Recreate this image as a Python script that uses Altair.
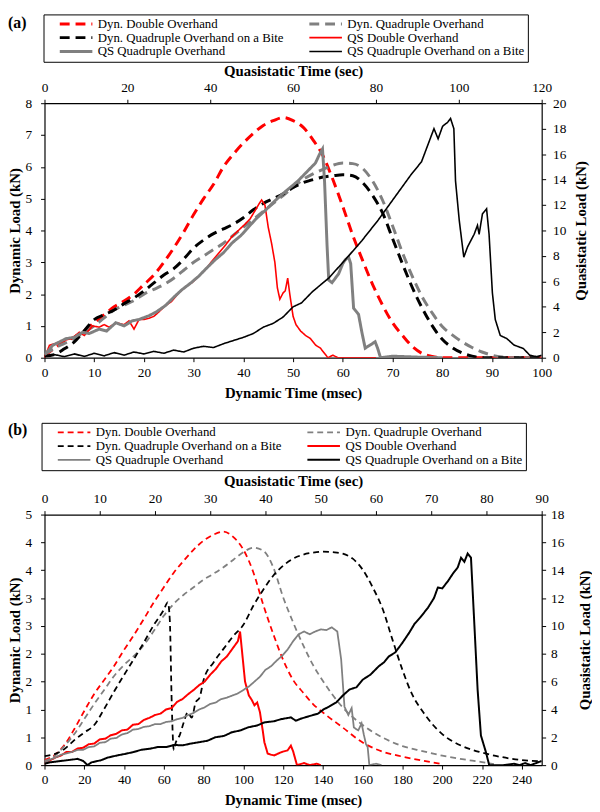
import altair as alt
import pandas as pd

FONT = "Liberation Serif, Times New Roman, Times, DejaVu Serif, serif"

SERIES = ["Dyn. Double Overhand", "Dyn. Quadruple Overhand",
          "Dyn. Quadruple Overhand on a Bite", "QS Double Overhand",
          "QS Quadruple Overhand", "QS Quadruple Overhand on a Bite"]
# legend fills column by column; this order reproduces the reference's row layout
LEGEND_ORDER = [SERIES[0], SERIES[2], SERIES[4], SERIES[1], SERIES[3], SERIES[5]]
COLORS = {SERIES[0]: "#ff0000", SERIES[1]: "#808080", SERIES[2]: "#000000",
          SERIES[3]: "#ff0000", SERIES[4]: "#808080", SERIES[5]: "#000000"}

# ---------------- Panel (a): dynamic (msec, kN) ----------------
A_DYN_DOUBLE = [(0,0.05),(2,0.3),(4,0.5),(6,0.65),(8,0.85),(10,1.1),(12,1.35),(14,1.6),(16,1.78),(18,2.0),
                (20,2.3),(22,2.6),(24,3.0),(26,3.45),(28,3.95),(30,4.5),(32,5.0),(34,5.45),(36,6.0),(38,6.4),
                (40,6.75),(42,7.05),(44,7.3),(46,7.45),(48,7.55),(50,7.45),(52,7.25),(54,6.85),(56,6.35),(58,5.6),
                (60,4.75),(62,3.85),(64,3.05),(66,2.3),(68,1.65),(70,1.1),(72,0.7),(74,0.35),(76,0.13),(78,0.04),
                (80,0.0),(100,0.0)]
A_DYN_QUAD = [(0,0.1),(2,0.3),(4,0.45),(6,0.6),(8,0.8),(10,1.0),(12,1.25),(14,1.5),(16,1.65),(18,1.8),
              (20,2.0),(22,2.15),(24,2.3),(26,2.5),(28,2.75),(30,3.0),(32,3.2),(34,3.4),(36,3.6),(38,3.85),
              (40,4.1),(42,4.35),(44,4.6),(46,4.85),(48,5.1),(50,5.35),(52,5.6),(54,5.78),(56,5.92),(58,6.05),
              (60,6.12),(62,6.1),(64,5.95),(66,5.55),(68,4.95),(70,4.15),(72,3.3),(74,2.55),(76,1.9),(78,1.4),
              (80,0.98),(82,0.72),(84,0.5),(86,0.32),(88,0.18),(90,0.08),(92,0.02),(94,0.0),(100,0.0)]
A_DYN_BITE = [(0,0.05),(2,0.1),(4,0.28),(6,0.5),(8,0.85),(10,1.2),(12,1.35),(14,1.5),(16,1.7),(18,1.88),
              (20,2.1),(22,2.35),(24,2.6),(26,2.8),(28,3.1),(30,3.45),(32,3.7),(34,3.9),(36,4.05),(38,4.2),
              (40,4.4),(42,4.65),(44,4.85),(46,5.0),(48,5.15),(50,5.35),(52,5.5),(54,5.6),(56,5.68),(58,5.72),
              (60,5.75),(62,5.72),(64,5.5),(66,5.1),(68,4.55),(70,3.75),(72,2.95),(74,2.2),(76,1.55),(78,1.0),
              (80,0.58),(82,0.32),(84,0.15),(86,0.05),(88,0.0),(100,0.0)]

# ---------------- Panel (a): quasistatic (sec, kN) ----------------
A_QS_DOUBLE = [(0,0),(1.2,0.98),(2.4,1.1),(5.2,1.4),(6.6,1.5),(8.4,2.0),(9.6,1.75),(11.6,2.5),(13.2,2.4),
               (14.4,2.6),(15.6,2.4),(17.4,2.75),(19.2,2.6),(20.4,2.9),(21.6,2.25),(22.8,3.0),(24,3.0),
               (25.2,3.1),(26.4,3.25),(27.6,3.6),(29.2,4.1),(30.6,4.4),(32.4,5.1),(34.2,5.6),(35.6,5.9),
               (37.2,6.4),(38.8,6.9),(40.2,7.5),(42,8.2),(43.8,8.9),(45.2,9.5),(46.8,10.0),(48.4,10.5),
               (49.6,10.9),(50.8,11.55),(51.8,12.1),(52.4,12.4),(53.2,12.0),(54,10.25),(54.8,9.0),(55.6,7.5),
               (56.2,5.5),(56.8,4.6),(57.6,5.1),(58.1,5.25),(58.7,6.25),(59.2,5.0),(60,3.25),(60.7,2.6),
               (61.8,2.1),(63,1.75),(64.2,1.5),(65.4,1.0),(66.6,0.75),(67.8,0.25),(68.4,0),(69.6,0.2),
               (70.8,0),(80,0)]
A_QS_QUAD = [(0,0.2),(2,0.98),(5.2,1.5),(7.2,1.6),(9.2,2.0),(10.8,1.9),(13.2,2.25),(15,2.1),(17.2,2.75),
             (19.2,2.5),(21.2,2.9),(22.8,3.0),(25.2,3.3),(27,3.6),(29.2,4.1),(31.2,4.75),(33.2,5.35),
             (35.4,5.9),(37.2,6.4),(39,7.0),(41.2,7.7),(43.2,8.25),(45.2,9.0),(47.4,9.6),(49.2,10.25),
             (51,10.9),(53.2,11.55),(55.2,12.2),(57.2,12.8),(59.4,13.4),(61.2,13.9),(63,14.5),(64.2,14.9),
             (65.4,15.3),(66.4,16.0),(67.1,16.4),(67.6,13.8),(68.2,8.8),(68.6,6.1),(69.4,5.9),(70.2,6.25),
             (71,6.6),(72,7.4),(72.6,7.7),(73.4,7.9),(73.9,7.4),(74.6,3.9),(75.8,3.4),(76.6,2.0),(77.4,0.75),
             (78.6,1.0),(79.8,1.25),(80.4,0.75),(81.1,0),(84,0.12),(90,0.05),(96,0)]
A_QS_BITE = [(0,0.1),(2.4,0.25),(4.8,0.08),(7.2,0.3),(9.6,0.1),(12,0.35),(14.4,0.15),(16.8,0.4),(19.2,0.2),
             (21.6,0.45),(24,0.3),(26.4,0.5),(28.8,0.35),(31.2,0.6),(33.6,0.45),(36,0.75),(38.4,0.9),
             (40.8,0.8),(43.2,1.1),(45.6,1.35),(48,1.6),(50.4,1.9),(52.8,2.4),(55.2,2.7),(57.6,3.2),(60,4.0),
             (62,4.3),(64.7,5.2),(68.6,6.26),(72.6,7.7),(76.6,9.2),(80.5,10.8),(84.5,12.6),(88.5,14.4),
             (91,15.4),(92.5,16.7),(94,18.0),(95,17.2),(96.1,18.2),(97.3,18.5),(98,18.8),(98.8,18.0),
             (99.2,13.9),(100.1,10.8),(101.2,7.9),(102.1,8.7),(103.7,9.7),(104.5,10.4),(104.9,9.7),
             (105.7,11.3),(106.7,11.7),(107.3,9.7),(108.1,5.1),(108.8,3.0),(110,1.75),(111.6,1.5),
             (113.3,1.0),(115.6,0.72),(117.1,0.2),(118.8,0.08),(120,0.2)]

# ---------------- Panel (b): dynamic (msec, kN) ----------------
B_DYN_DOUBLE = [(0,0.1),(5,0.2),(10,0.4),(15,0.72),(20,1.08),(25,1.42),(30,1.7),(35,1.98),(40,2.3),(45,2.6),
                (50,2.92),(55,3.25),(60,3.55),(65,3.84),(70,4.08),(75,4.3),(80,4.48),(85,4.6),(90,4.66),
                (95,4.55),(100,4.3),(105,3.85),(110,3.2),(115,2.62),(120,2.1),(125,1.7),(130,1.45),
                (135,1.22),(140,1.05),(150,0.75),(160,0.45),(170,0.27),(180,0.17),(190,0.09),(200,0.02)]
B_DYN_QUAD = [(0,0.08),(5,0.18),(10,0.38),(15,0.62),(20,0.92),(25,1.22),(30,1.5),(35,1.78),(40,2.0),
              (45,2.18),(50,2.4),(55,2.68),(60,2.98),(65,3.22),(70,3.4),(75,3.55),(80,3.7),(85,3.82),
              (90,3.95),(95,4.1),(100,4.25),(105,4.34),(110,4.28),(115,3.95),(120,3.35),(125,2.85),
              (130,2.4),(135,2.0),(140,1.68),(150,1.15),(160,0.8),(170,0.55),(180,0.38),(190,0.28),
              (200,0.19),(210,0.12),(220,0.06),(226,0.02)]
B_DYN_BITE = [(0,0.18),(5,0.22),(10,0.32),(15,0.5),(20,0.65),(25,0.8),(30,1.12),(35,1.47),(40,1.8),
              (45,2.12),(50,2.45),(55,2.8),(60,3.1),(62,3.25),(63,2.9),(64,1.2),(65,0.3),(66,0.45),
              (68,0.6),(70,0.85),(72,1.05),(74,0.95),(76,1.25),(78,1.35),(80,1.7),(85,2.05),(90,2.32),
              (95,2.58),(100,2.8),(105,3.18),(110,3.5),(115,3.78),(120,3.98),(125,4.12),(130,4.2),
              (135,4.24),(140,4.26),(145,4.25),(150,4.22),(155,4.12),(160,3.9),(165,3.55),(170,3.12),
              (175,2.5),(180,1.9),(185,1.4),(190,1.08),(195,0.82),(200,0.62),(210,0.38),(220,0.25),
              (230,0.16),(240,0.1),(250,0.08)]

# ---------------- Panel (b): quasistatic (sec, kN) ----------------
B_QS_DOUBLE = [(0,0.1),(1,0.35),(2,0.55),(3,0.7),(4,0.95),(5,0.95),(6,1.2),(7,1.25),(8,1.5),(9,1.55),
               (10,1.85),(11,1.9),(12,2.15),(13,2.25),(14,2.5),(15,2.55),(16,2.9),(17,2.95),(18,3.25),
               (19,3.4),(20,3.6),(21,3.7),(22,4.0),(23,4.1),(24,4.55),(25,4.75),(26,5.1),(27,5.4),(28,5.75),
               (29,6.0),(30,6.5),(31,6.9),(32,7.45),(33,7.8),(34,8.35),(35,8.9),(35.4,9.6),(35.8,8.0),
               (36.3,6.0),(37,5.0),(37.5,4.7),(38,4.3),(38.5,4.5),(39,3.8),(39.5,2.5),(39.8,1.65),
               (40.4,0.83),(41,0.75),(41.6,0.7),(42.9,0.94),(44,1.06),(44.6,1.4),(45,1.0),(45.7,0),
               (47,0.15),(48,0),(49.3,0.1),(50,0)]
B_QS_QUAD = [(0,0.1),(1,0.4),(2,0.55),(3,0.75),(4,0.85),(5,0.95),(6,1.1),(7,1.1),(8,1.3),(9,1.35),
             (10,1.6),(11,1.65),(12,1.9),(13,1.95),(14,2.2),(15,2.3),(16,2.55),(17,2.6),(18,2.75),(19,2.8),
             (20,2.95),(21,2.95),(22,3.1),(23,3.15),(24,3.3),(25,3.4),(26,3.6),(27,3.75),(28,4.0),(29,4.15),
             (30,4.4),(31,4.5),(32,4.75),(33,4.85),(34,5.0),(35,5.15),(36,5.4),(37,5.65),(38,6.0),(39,6.35),
             (40,6.85),(41,7.1),(42,7.5),(43,7.85),(44,8.3),(45,8.9),(46,9.4),(47,9.6),(48,9.4),(49,9.6),
             (50,9.75),(51,9.7),(52,9.9),(53,9.6),(53.7,7.6),(54.3,4.2),(55,3.6),(55.6,4.1),(56,2.7),
             (56.8,2.5),(57.4,3.0),(57.8,2.2),(58.2,1.5),(58.5,1.3),(58.8,0.0),(60,0.1),(61,0)]
B_QS_BITE = [(0,0.1),(1,0.2),(2,0.25),(3,0.3),(4,0.35),(5,0.4),(6,0.45),(7,0.3),(7.8,0.0),(8.5,0.2),
             (10.2,0.35),(11.5,0.55),(13.2,0.7),(14.5,0.8),(16.1,0.94),(17.5,1.1),(19.1,1.18),(20.5,1.3),
             (22.1,1.3),(23.5,1.45),(25,1.42),(26.5,1.55),(28,1.65),(29.5,1.75),(30.9,2.0),(32.5,2.1),
             (33.9,2.36),(35.5,2.5),(36.9,2.72),(38.5,2.85),(39.8,3.07),(41.5,3.15),(42.8,3.3),(44.6,3.43),
             (45.5,3.19),(46.5,3.35),(48.1,3.54),(49.5,3.7),(50.5,4.0),(51.5,4.2),(52.8,4.5),(54,5.0),
             (55.2,5.43),(56.5,5.6),(57.6,6.14),(59,6.5),(60.5,7.1),(61.5,7.4),(62.3,7.8),(63.5,8.1),
             (64.7,8.74),(66,9.5),(67,10.16),(68,10.6),(69.4,11.3),(70.5,12.0),(71.2,12.76),(72,12.7),
             (73,13.2),(74,13.8),(74.8,14.2),(75.4,14.9),(76,14.6),(76.6,15.2),(77.2,14.9),(77.8,10.2),
             (78.4,5.43),(79,2.13),(79.9,0.94),(80.5,0.0),(83,0.0),(85,0.1),(86,0.0),(87,0.15),(88,0.0),
             (90,0.3)]

# axis tick values
A_BOTTOM_TICKS = [0, 10, 20, 30, 40, 50, 60, 70, 80, 90, 100]
A_TOP_TICKS = [0, 20, 40, 60, 80, 100, 120]
A_LEFT_TICKS = [0, 1, 2, 3, 4, 5, 6, 7, 8]
A_RIGHT_TICKS = [0, 2, 4, 6, 8, 10, 12, 14, 16, 18, 20]
B_BOTTOM_TICKS = [0, 20, 40, 60, 80, 100, 120, 140, 160, 180, 200, 220, 240]
B_TOP_TICKS = [0, 10, 20, 30, 40, 50, 60, 70, 80, 90]
B_LEFT_TICKS = [0, 0.5556, 1.1111, 1.6667, 2.2222, 2.7778, 3.3333, 3.8889, 4.4444, 5]
B_RIGHT_TICKS = [0, 2, 4, 6, 8, 10, 12, 14, 16, 18]


def frame(items):
    rows = []
    for name, pts in items:
        for i, (t, v) in enumerate(pts):
            rows.append({"Series": name, "Time": t, "Load": v, "i": i})
    return pd.DataFrame(rows)


def ax(orient, values, title, tx, ty, lpad, fmt=None):
    kw = dict(orient=orient, values=values, title=title, titleX=tx, titleY=ty,
              labelPadding=lpad, grid=False, domainColor="black", domainWidth=1.2,
              tickColor="black", tickSize=4, tickWidth=1, labelFont=FONT,
              labelFontSize=13.5, labelColor="black", titleFont=FONT, titleFontSize=15,
              titleFontWeight="bold", titleColor="black", titleAlign="center",
              titleBaseline="middle", labelFlush=False, labelOverlap=False,
              titleAngle=270 if orient in ("left", "right") else 0)
    if fmt:
        kw["format"] = fmt
    return alt.Axis(**kw)


def panel(cfg):
    dyn_df = frame(cfg["dyn"])
    qs_df = frame(cfg["qs"])
    pad = " " * cfg["spaces"]
    leg = alt.Legend(orient="none", legendX=cfg["legx"], legendY=cfg["legy"], columns=2,
                     title=None, symbolType="M-3.67,0H3.67", symbolSize=81,
                     symbolStrokeWidth=cfg["symw"],
                     symbolOffset=23.5, labelOffset=15.5, labelFont=FONT, labelFontSize=13,
                     labelColor="black", strokeColor="black", fillColor="white", padding=3,
                     rowPadding=0, columnPadding=12, labelLimit=400,
                     labelExpr="datum.label == 'QS Quadruple Overhand on a Bite' ? datum.label + '" + pad + "' : datum.label")
    color = alt.Color("Series:N", scale=alt.Scale(domain=LEGEND_ORDER,
                      range=[COLORS[n] for n in LEGEND_ORDER]), legend=leg)
    dash = alt.StrokeDash("Series:N", scale=alt.Scale(domain=LEGEND_ORDER,
                          range=[cfg["dash"][n] for n in LEGEND_ORDER]), legend=leg)
    width = alt.StrokeWidth("Series:N", scale=alt.Scale(type="ordinal", domain=LEGEND_ORDER,
                            range=[cfg["widths"][n] for n in LEGEND_ORDER]), legend=None)
    W, H = cfg["w"], cfg["h"]
    dyn = alt.Chart(dyn_df).mark_line(clip=True, interpolate="monotone").encode(
        x=alt.X("Time:Q", scale=alt.Scale(domain=cfg["dx"], nice=False, zero=False),
                axis=ax("bottom", cfg["bt"], "Dynamic Time (msec)", W / 2, 35, 4)),
        y=alt.Y("Load:Q", scale=alt.Scale(domain=cfg["dy"], nice=False),
                axis=ax("left", cfg["lt"], "Dynamic Load (kN)", cfg["ltx"], H / 2, cfg["lpad"], cfg.get("lfmt"))),
        color=color, strokeDash=dash, strokeWidth=width, order="i:Q")
    qs = alt.Chart(qs_df).mark_line(clip=True).encode(
        x=alt.X("Time:Q", scale=alt.Scale(domain=cfg["qx"], nice=False, zero=False),
                axis=ax("top", cfg["tt"], "Quasistatic Time (sec)", W / 2, cfg["tty"], 5)),
        y=alt.Y("Load:Q", scale=alt.Scale(domain=cfg["qy"], nice=False),
                axis=ax("right", cfg["rt"], "Quasistatic Load (kN)", cfg["rtx"], H / 2, cfg["rpad"])),
        color=color, strokeDash=dash, strokeWidth=width, order="i:Q")
    tag = alt.Chart(pd.DataFrame({"tag": [cfg["tag"]]})).mark_text(
        align="left", baseline="middle", font=FONT, fontSize=16, fontWeight="bold", color="black"
    ).encode(text="tag:N", x=alt.value(-37), y=alt.value(cfg["tagy"]))
    return alt.layer(dyn, qs, tag).resolve_scale(x="independent", y="independent").properties(
        width=W, height=H)


DASH_A, SOLID = [10, 6], [1, 0]
DASH_B = [6, 4]

pa = panel(dict(
    dyn=[(SERIES[0], A_DYN_DOUBLE), (SERIES[1], A_DYN_QUAD), (SERIES[2], A_DYN_BITE)],
    qs=[(SERIES[3], A_QS_DOUBLE), (SERIES[4], A_QS_QUAD), (SERIES[5], A_QS_BITE)],
    dash={SERIES[0]: DASH_A, SERIES[1]: DASH_A, SERIES[2]: DASH_A,
          SERIES[3]: SOLID, SERIES[4]: SOLID, SERIES[5]: SOLID},
    widths={SERIES[0]: 3, SERIES[1]: 3, SERIES[2]: 3, SERIES[3]: 1.6, SERIES[4]: 3, SERIES[5]: 1.6},
    symw=2.6, spaces=6,
    dx=[0, 100], dy=[0, 8], qx=[0, 120], qy=[0, 20],
    bt=A_BOTTOM_TICKS, tt=A_TOP_TICKS, lt=A_LEFT_TICKS, rt=A_RIGHT_TICKS,
    w=504, h=258, legx=-1, legy=-90, tty=-33, ltx=-30, rtx=39, lpad=9, rpad=7,
    tag="(a)", tagy=-81))

pb = panel(dict(
    dyn=[(SERIES[0], B_DYN_DOUBLE), (SERIES[1], B_DYN_QUAD), (SERIES[2], B_DYN_BITE)],
    qs=[(SERIES[3], B_QS_DOUBLE), (SERIES[4], B_QS_QUAD), (SERIES[5], B_QS_BITE)],
    dash={SERIES[0]: DASH_B, SERIES[1]: DASH_B, SERIES[2]: DASH_B,
          SERIES[3]: SOLID, SERIES[4]: SOLID, SERIES[5]: SOLID},
    widths={SERIES[0]: 1.8, SERIES[1]: 1.8, SERIES[2]: 1.8, SERIES[3]: 2, SERIES[4]: 1.8, SERIES[5]: 2},
    symw=2, spaces=10,
    dx=[0, 250], dy=[0, 5], qx=[0, 90], qy=[0, 18],
    bt=B_BOTTOM_TICKS, tt=B_TOP_TICKS, lt=B_LEFT_TICKS, rt=B_RIGHT_TICKS, lfmt=".0f",
    w=504, h=254, legx=-3, legy=-93, tty=-34, ltx=-30, rtx=43, lpad=9, rpad=5,
    tag="(b)", tagy=-86))

chart = alt.vconcat(pa, pb, spacing=22).resolve_scale(
    x="independent", y="independent", color="independent",
    strokeDash="independent", strokeWidth="independent"
).properties(padding=0).configure_view(stroke=None).configure_legend(
    strokeColor="black", strokeWidth=1, fillColor="white", padding=3)

chart.save("out.html", embed_options={"renderer": "svg", "actions": False})
